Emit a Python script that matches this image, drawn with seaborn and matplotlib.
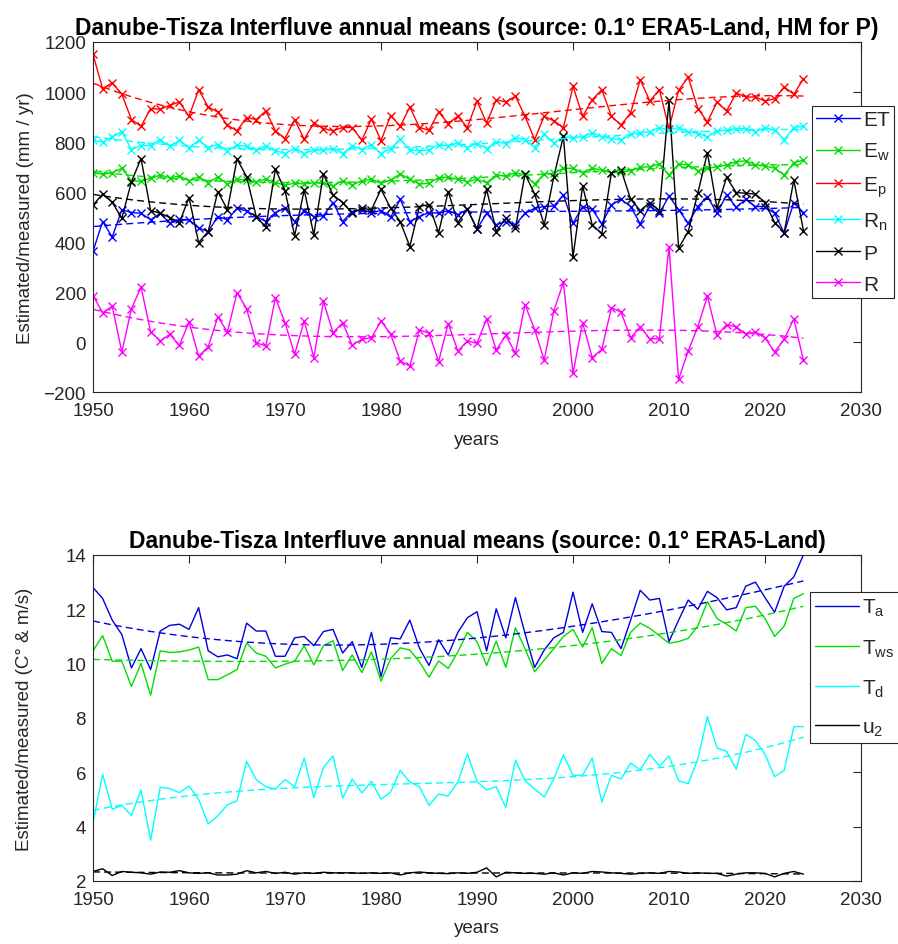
import numpy as np
import pandas as pd
import matplotlib
matplotlib.use('Agg')
import matplotlib.pyplot as plt
import seaborn as sns

years = list(range(1950, 2025))

ET = [363, 482, 420, 529, 518, 515, 489, 515, 475, 491,
      489, 456, 442, 502, 489, 535, 524, 502, 482, 518,
      535, 482, 526, 502, 505, 558, 482, 522, 529, 518,
      526, 499, 571, 482, 502, 518, 515, 526, 509, 531,
      452, 515, 469, 482, 469, 515, 535, 542, 544, 588,
      475, 542, 531, 473, 548, 571, 542, 473, 544, 515,
      584, 529, 475, 542, 582, 515, 588, 539, 571, 542,
      542, 515, 436, 558, 518]
EW = [677, 671, 677, 695, 645, 643, 655, 668, 657, 664,
      645, 661, 637, 661, 632, 651, 647, 641, 651, 637,
      628, 635, 632, 637, 635, 624, 645, 628, 645, 651,
      635, 648, 672, 651, 632, 635, 658, 659, 651, 641,
      651, 637, 668, 664, 677, 668, 632, 672, 675, 695,
      695, 677, 695, 688, 677, 679, 685, 699, 701, 712,
      668, 712, 708, 685, 695, 701, 708, 721, 725, 708,
      704, 695, 668, 717, 728]
EP = [1150, 1013, 1037, 991, 890, 863, 934, 931, 947, 960,
      903, 1009, 940, 920, 867, 845, 898, 890, 924, 845,
      814, 890, 811, 876, 854, 845, 858, 858, 807, 892,
      805, 906, 863, 940, 858, 847, 920, 874, 903, 858,
      964, 876, 969, 960, 983, 903, 810, 903, 884, 858,
      1023, 903, 969, 1009, 903, 868, 916, 1049, 964, 1009,
      854, 1007, 1060, 934, 880, 960, 924, 996, 980, 980,
      964, 973, 1020, 991, 1053]
RN = [807, 799, 821, 841, 770, 786, 786, 810, 783, 807,
      778, 807, 778, 790, 764, 787, 783, 768, 784, 765,
      754, 774, 754, 768, 768, 774, 754, 784, 770, 790,
      754, 774, 811, 768, 765, 768, 790, 784, 797, 778,
      794, 774, 801, 794, 818, 810, 778, 831, 797, 821,
      818, 821, 837, 821, 814, 808, 831, 837, 841, 858,
      847, 858, 841, 834, 821, 845, 847, 854, 854, 841,
      858, 847, 810, 858, 863]
P = [548, 592, 559, 495, 641, 734, 526, 515, 498, 478,
     578, 398, 442, 602, 529, 732, 661, 502, 459, 691,
     606, 425, 608, 429, 672, 588, 558, 515, 535, 529,
     611, 535, 482, 382, 542, 550, 437, 602, 478, 531,
     452, 611, 442, 495, 455, 672, 592, 469, 661, 823,
     340, 624, 469, 433, 677, 690, 571, 526, 558, 526,
     967, 376, 442, 595, 757, 535, 659, 598, 595, 592,
     558, 478, 438, 648, 446]
R = [186, 117, 143, -40, 133, 220, 41, 4, 31, -13,
     80, -56, -19, 101, 40, 197, 133, -3, -16, 177,
     77, -49, 84, -62, 163, 37, 77, -13, 11, 17,
     84, 31, -76, -96, 48, 36, -78, 74, -36, 4,
     -5, 93, -32, 27, -45, 150, 50, -72, 124, 239,
     -125, 77, -62, -29, 137, 120, 17, 61, 13, 13,
     382, -149, -36, 61, 183, 27, 70, 61, 31, 40,
     17, -40, 11, 93, -72]

TA = [12.80, 12.40, 11.60, 11.07, 9.84, 10.55, 9.78, 11.20, 11.41, 11.45,
      11.26, 12.06, 10.47, 10.25, 10.32, 10.18, 11.49, 11.20, 11.20, 10.27,
      10.27, 10.95, 11.00, 10.66, 11.18, 11.26, 10.39, 10.81, 9.86, 11.15,
      9.52, 10.95, 10.91, 11.60, 10.57, 9.93, 10.88, 10.32, 11.15, 11.69,
      11.91, 10.47, 12.02, 10.95, 12.43, 11.11, 9.86, 10.50, 10.95, 11.15,
      12.63, 11.15, 12.20, 11.18, 11.15, 10.55, 11.60, 12.70, 12.34, 12.40,
      10.81, 11.60, 12.34, 12.00, 12.66, 12.43, 11.98, 12.06, 12.85, 13.00,
      12.43, 11.89, 12.85, 13.19, 14.00]
TWS = [10.47, 11.03, 10.09, 10.09, 9.16, 10.01, 8.84, 10.47, 10.41, 10.43,
       10.50, 10.61, 9.41, 9.41, 9.59, 9.78, 10.76, 10.39, 10.27, 9.84,
       9.98, 10.09, 10.66, 9.95, 10.66, 10.84, 9.75, 10.32, 9.67, 10.43,
       9.36, 10.18, 10.58, 10.50, 10.07, 9.50, 10.10, 9.82, 10.43, 11.15,
       10.81, 9.93, 10.83, 9.86, 11.32, 10.55, 9.70, 10.13, 10.55, 11.00,
       11.26, 10.61, 11.32, 10.01, 10.55, 10.30, 11.15, 11.49, 11.30, 11.03,
       10.75, 10.81, 10.93, 11.38, 12.28, 11.66, 11.45, 11.20, 12.06, 12.11,
       11.66, 11.00, 11.38, 12.40, 12.57]
TD = [4.16, 5.92, 4.64, 4.78, 4.41, 5.35, 3.50, 5.45, 5.40, 5.25,
      5.50, 5.00, 4.10, 4.40, 4.80, 4.95, 6.40, 5.73, 5.47, 5.39,
      5.73, 5.47, 6.52, 5.07, 6.18, 6.60, 5.05, 5.75, 5.24, 5.66,
      5.01, 5.27, 6.07, 5.64, 5.47, 4.78, 5.20, 5.13, 5.64, 6.68,
      5.66, 5.35, 5.47, 4.70, 6.45, 5.69, 5.39, 5.09, 5.75, 6.64,
      5.89, 5.89, 6.52, 4.90, 5.89, 5.75, 6.34, 6.09, 6.66, 6.23,
      6.60, 5.69, 5.58, 6.49, 8.05, 6.89, 6.77, 6.11, 7.40, 7.17,
      6.66, 5.84, 6.07, 7.68, 7.68]
U2 = [2.35, 2.45, 2.20, 2.35, 2.32, 2.30, 2.25, 2.33, 2.32, 2.38,
      2.30, 2.28, 2.30, 2.22, 2.22, 2.25, 2.38, 2.30, 2.35, 2.28,
      2.32, 2.25, 2.30, 2.28, 2.32, 2.30, 2.30, 2.30, 2.28, 2.30,
      2.28, 2.30, 2.22, 2.30, 2.33, 2.30, 2.28, 2.27, 2.30, 2.28,
      2.32, 2.48, 2.15, 2.32, 2.30, 2.28, 2.28, 2.25, 2.30, 2.22,
      2.30, 2.28, 2.35, 2.33, 2.30, 2.28, 2.25, 2.28, 2.30, 2.28,
      2.35, 2.33, 2.28, 2.30, 2.28, 2.28, 2.18, 2.25, 2.30, 2.30,
      2.28, 2.15, 2.28, 2.35, 2.25]

top_labels = ['ET', 'E$_w$', 'E$_p$', 'R$_n$', 'P', 'R']
bot_labels = ['T$_a$', 'T$_{ws}$', 'T$_d$', 'u$_2$']
xticks = [1950, 1960, 1970, 1980, 1990, 2000, 2010, 2020, 2030]

sns.set_style('white')
plt.rcParams['font.family'] = ['Liberation Sans', 'DejaVu Sans']
plt.rcParams['mathtext.default'] = 'regular'

DARK = '#262626'
fig = plt.figure(figsize=(8.98, 9.45), dpi=100)
ax1 = fig.add_axes([0.1036, 0.5841, 0.8552, 0.3704])
ax2 = fig.add_axes([0.1036, 0.0667, 0.8552, 0.3450])

top_cols = ['#0000ff', '#00dd00', '#ff0000', '#00ffff', '#000000', '#ff00ff']
bot_cols = ['#0000dd', '#00dd00', '#00ffff', '#000000']


def draw(ax, series, labels, cols, marker):
    handles = []
    for vals, lab, col in zip(series, labels, cols):
        df = pd.DataFrame({'year': years, 'v': vals})
        kw = dict(linewidth=1.0)
        if marker:
            kw.update(marker='x', markersize=6, markeredgecolor=col,
                      markeredgewidth=1.0)
        sns.lineplot(data=df, x='year', y='v', ax=ax, color=col, label=lab,
                     legend=False, **kw)
        handles.append(ax.lines[-1])
    for vals, col in zip(series, cols):
        df = pd.DataFrame({'year': years, 'v': vals})
        sns.regplot(data=df, x='year', y='v', ax=ax, order=3, ci=None,
                    scatter=False, color=col, truncate=True,
                    line_kws=dict(linestyle=(0, (5, 3)), linewidth=1.0))
    return handles


h1 = draw(ax1, [ET, EW, EP, RN, P, R], top_labels, top_cols, True)
h2 = draw(ax2, [TA, TWS, TD, U2], bot_labels, bot_cols, False)

for ax in (ax1, ax2):
    ax.set_xlim(1950, 2030)
    ax.set_xticks(xticks)
    ax.tick_params(direction='in', length=6, width=0.8, top=True, right=True,
                   labelsize=13.5, colors=DARK)
    ax.tick_params(axis='y', pad=5)
    ax.tick_params(axis='x', pad=7.5)
    for s in ax.spines.values():
        s.set_color(DARK)
        s.set_linewidth(0.8)
    ax.set_xlabel('years', fontsize=13.5, color=DARK, labelpad=8)

ax1.set_ylim(-200, 1200)
ax1.set_yticks(range(-200, 1201, 200))
ax2.set_ylim(2, 14)
ax2.set_yticks(range(2, 15, 2))

ax1.set_ylabel('Estimated/measured (mm / yr)', fontsize=13.5, color=DARK,
               labelpad=7)
ax2.set_ylabel('Estimated/measured (C° & m/s)', fontsize=13.5, color=DARK,
               labelpad=23)
ax1.set_title('Danube-Tisza Interfluve annual means (source: 0.1° ERA5-Land, HM for P)',
              fontsize=16.5, fontweight='bold', color='black', pad=6)
ax2.set_title('Danube-Tisza Interfluve annual means (source: 0.1° ERA5-Land)',
              fontsize=16.5, fontweight='bold', color='black', pad=6)

leg_kw = dict(loc='upper left', bbox_transform=fig.transFigure, frameon=True,
              fancybox=False, shadow=False, framealpha=1, edgecolor=DARK,
              fontsize=15, handlelength=2.1, handletextpad=0.15,
              borderaxespad=0)
l1 = ax1.legend(h1, top_labels, bbox_to_anchor=(0.9042, 0.8868),
                labelspacing=0.57, borderpad=0.2, **leg_kw)
l2 = ax2.legend(h2, bot_labels, bbox_to_anchor=(0.902, 0.3725),
                labelspacing=0.9, borderpad=0.25, **leg_kw)
for l in (l1, l2):
    l.get_frame().set_linewidth(0.8)

fig.savefig('out.png', dpi=100)
